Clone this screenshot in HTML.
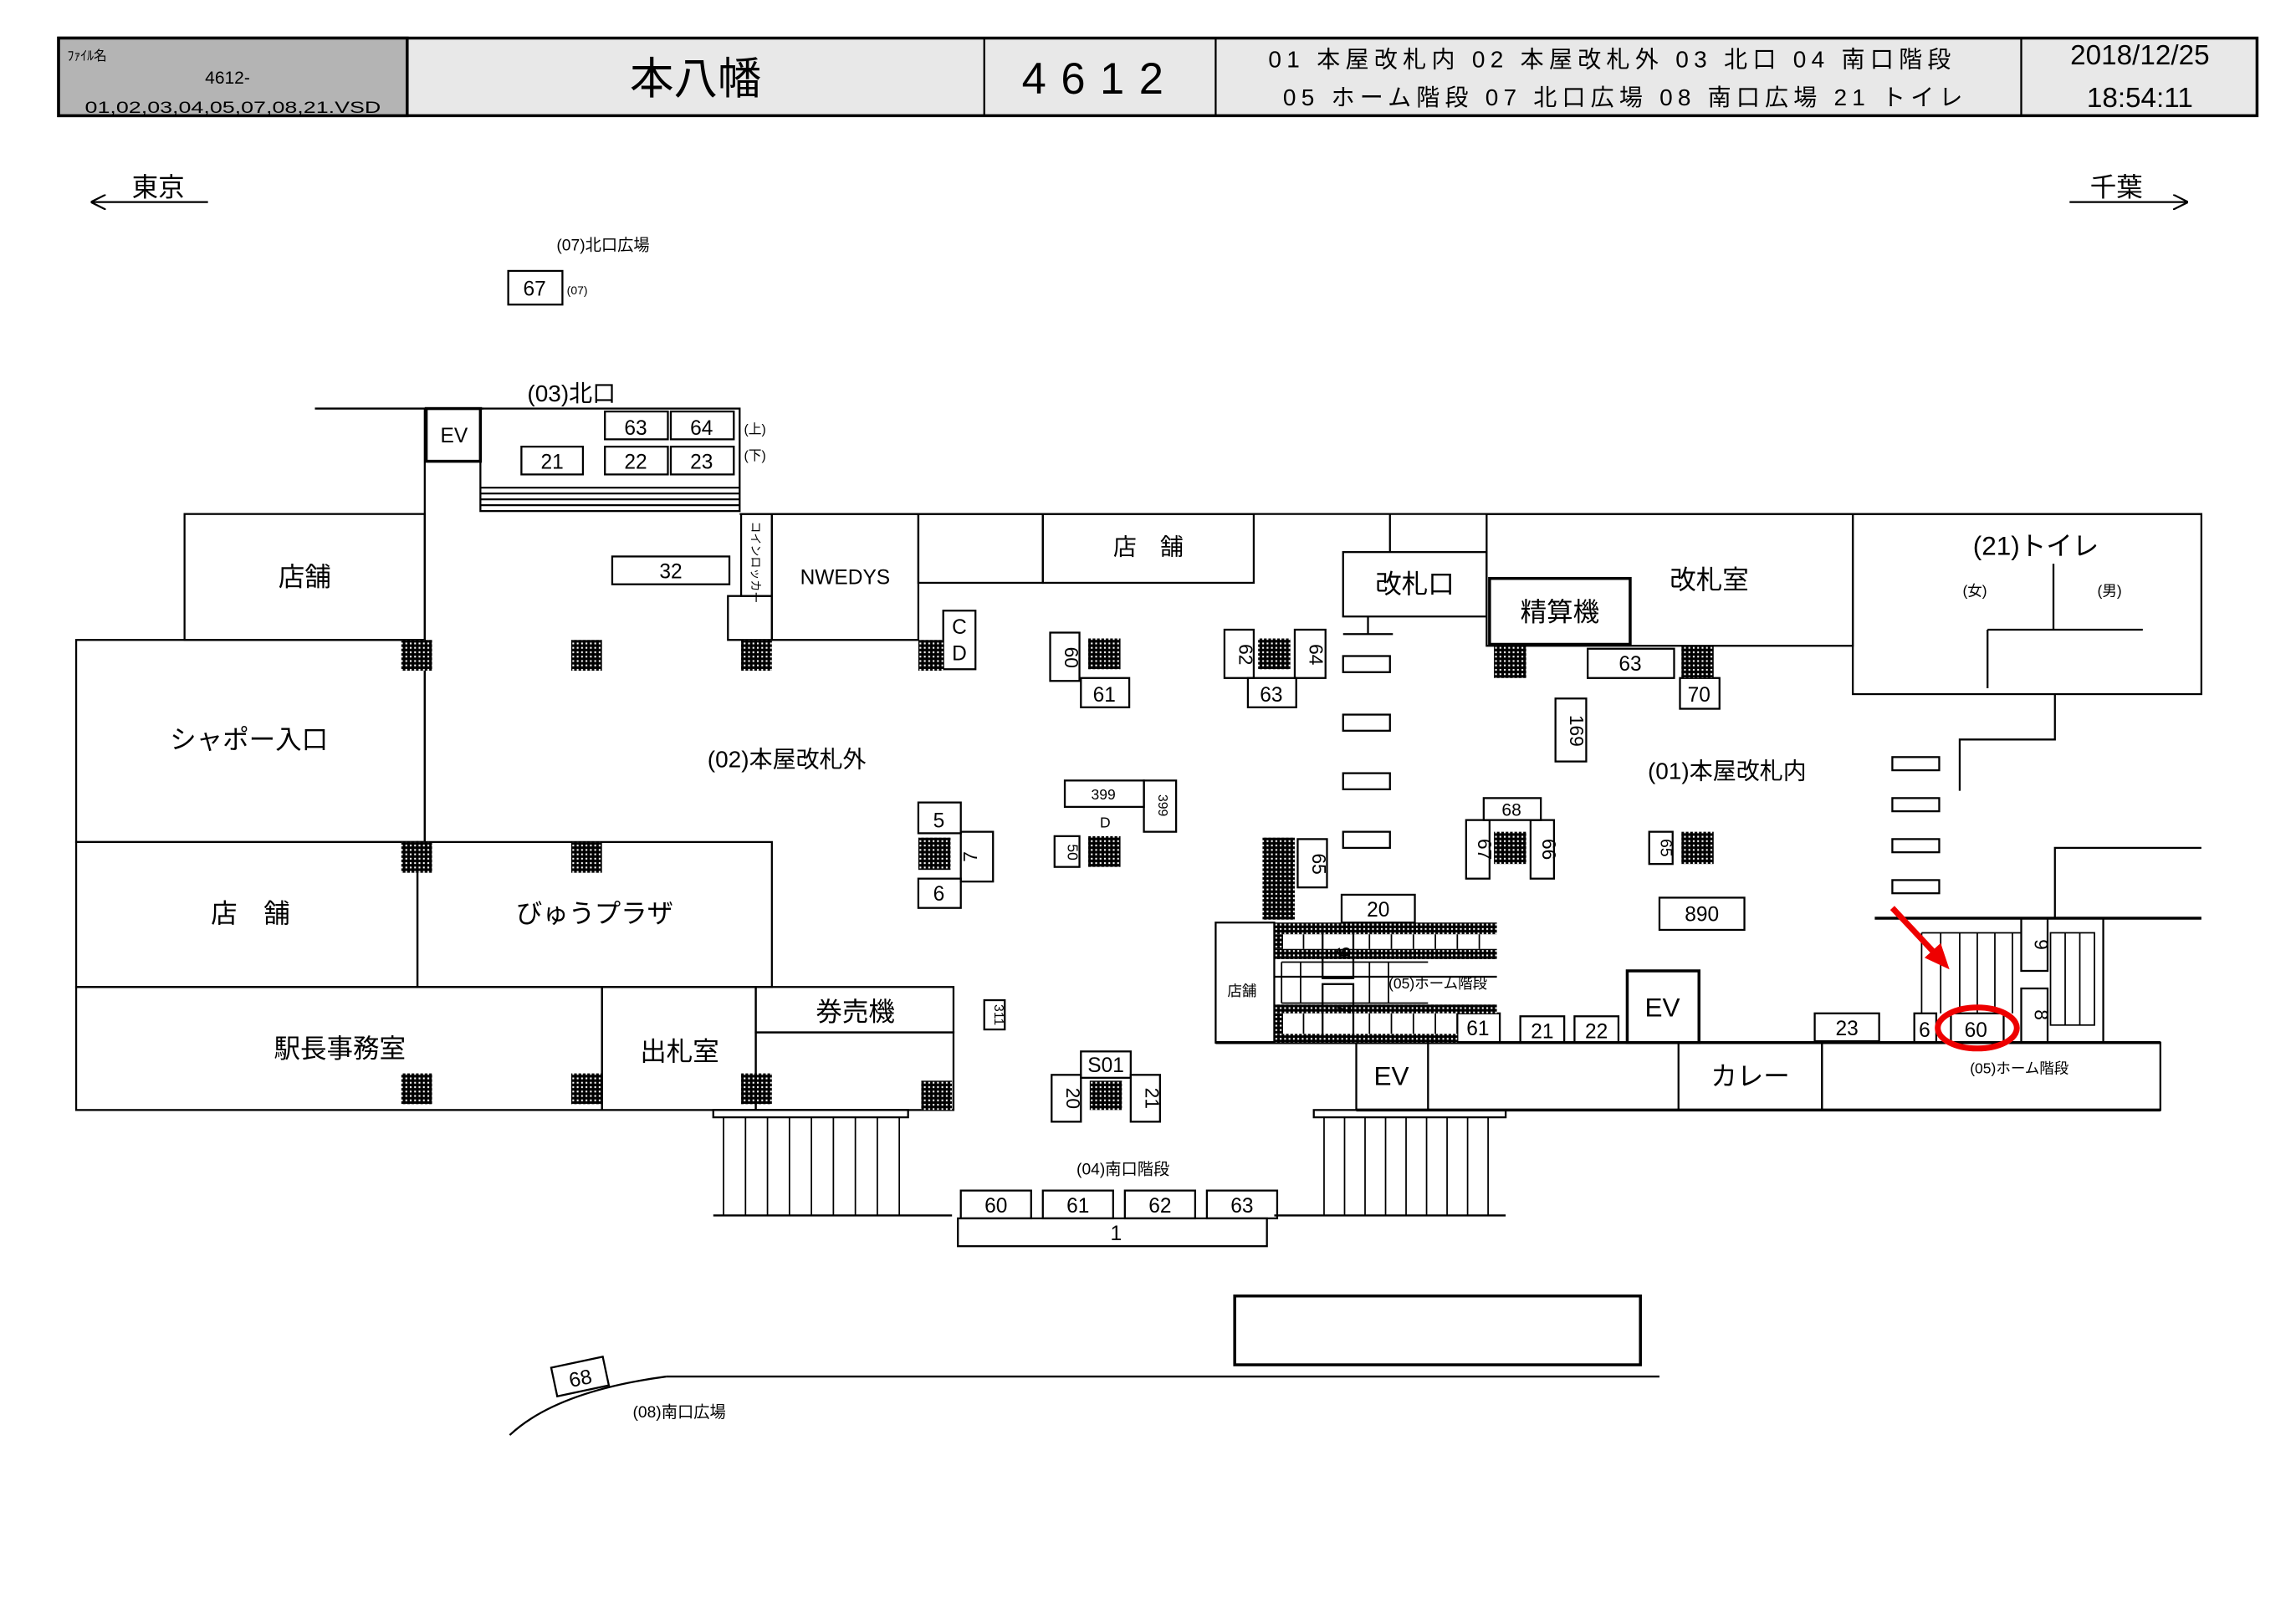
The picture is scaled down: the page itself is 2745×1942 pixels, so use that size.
<!DOCTYPE html>
<html><head><meta charset="utf-8"><style>
html,body{margin:0;padding:0;background:#fff}
svg{display:block}
text{font-family:"Liberation Sans","Noto Sans CJK JP",sans-serif;fill:#000}
</style></head><body>
<svg width="2745" height="1942" viewBox="0 0 1567.6 1109" preserveAspectRatio="none" xmlns="http://www.w3.org/2000/svg">
<defs>
<pattern id="h" width="3" height="3" patternUnits="userSpaceOnUse"><rect width="3" height="3" fill="#000"/><rect x="0.8" y="0.8" width="1.2" height="1.2" fill="#fff"/></pattern>
<marker id="ar" viewBox="0 0 10 10" refX="9" refY="5" markerWidth="8" markerHeight="8" orient="auto"><path d="M0,0 L10,5 L0,10" fill="none" stroke="#000" stroke-width="1.2"/></marker>
</defs>
<g stroke="#000" stroke-width="1.3" fill="none">
<rect x="40" y="26" width="1501" height="53" fill="#e8e8e8" stroke-width="2"/>
<rect x="40" y="26" width="238" height="53" fill="#b4b4b4" stroke-width="2"/>
<line x1="672" y1="26" x2="672" y2="79"/><line x1="830" y1="26" x2="830" y2="79"/><line x1="1380" y1="26" x2="1380" y2="79"/>
<line x1="142" y1="138" x2="63" y2="138" marker-end="url(#ar)"/>
<line x1="1413" y1="138" x2="1493" y2="138" marker-end="url(#ar)"/>
<rect x="347" y="185" width="37" height="23"/>
<line x1="215" y1="279" x2="330" y2="279"/>
<rect x="291" y="279" width="37" height="36" stroke-width="2"/>
<rect x="328" y="279" width="177" height="70"/>
<line x1="328" y1="333" x2="505" y2="333"/><line x1="328" y1="337" x2="505" y2="337"/><line x1="328" y1="341" x2="505" y2="341"/><line x1="328" y1="345" x2="505" y2="345"/>
<rect x="413" y="281" width="43" height="19"/><rect x="458" y="281" width="43" height="19"/>
<rect x="356" y="305" width="42" height="19"/><rect x="413" y="305" width="43" height="19"/><rect x="458" y="305" width="43" height="19"/>
<line x1="290" y1="279" x2="290" y2="575"/>
<rect x="126" y="351" width="164" height="86"/>
<rect x="52" y="437" width="238" height="138"/>
<rect x="52" y="575" width="233" height="99"/>
<rect x="285" y="575" width="242" height="99"/>
<rect x="52" y="674" width="359" height="84"/>
<rect x="411" y="674" width="105" height="84"/>
<rect x="516" y="674" width="135" height="31"/>
<rect x="516" y="705" width="135" height="53"/>
<line x1="505" y1="351" x2="1503" y2="351"/>
<rect x="527" y="351" width="100" height="86"/>
<rect x="506" y="351" width="21" height="56"/>
<rect x="497" y="407" width="30" height="30"/>
<rect x="627" y="351" width="85" height="47"/>
<rect x="712" y="351" width="144" height="47"/>
<line x1="949" y1="351" x2="949" y2="377"/>
<rect x="917" y="377" width="98" height="44"/>
<line x1="934" y1="421" x2="934" y2="433"/><line x1="917" y1="433" x2="951" y2="433"/>
<rect x="1015" y="351" width="250" height="90"/>
<rect x="1017" y="395" width="96" height="45" stroke-width="2"/>
<rect x="1265" y="351" width="238" height="123"/>
<line x1="1402" y1="385" x2="1402" y2="430"/><line x1="1357" y1="430" x2="1463" y2="430"/><line x1="1357" y1="430" x2="1357" y2="470"/>
<polyline points="1403,474 1403,505 1338,505 1338,540"/>
<rect x="917" y="448" width="32" height="11"/><rect x="917" y="488" width="32" height="11"/><rect x="917" y="528" width="32" height="11"/><rect x="917" y="568" width="32" height="11"/>
<rect x="1292" y="517" width="32" height="9"/><rect x="1292" y="545" width="32" height="9"/><rect x="1292" y="573" width="32" height="9"/><rect x="1292" y="601" width="32" height="9"/>
<rect x="418" y="380" width="80" height="19"/>
<rect x="644" y="417" width="22" height="40"/>
<rect x="717" y="432" width="20" height="33"/><rect x="738" y="463" width="33" height="20"/>
<rect x="836" y="430" width="20" height="33"/><rect x="884" y="430" width="21" height="33"/><rect x="852" y="463" width="33" height="20"/>
<rect x="1084" y="443" width="59" height="20"/><rect x="1147" y="463" width="27" height="21"/>
<rect x="1062" y="477" width="21" height="43"/>
<rect x="727" y="533" width="54" height="18"/><rect x="781" y="533" width="22" height="35"/>
<rect x="627" y="548" width="29" height="21"/><rect x="656" y="568" width="22" height="34"/><rect x="627" y="600" width="29" height="20"/>
<rect x="720" y="571" width="17" height="21"/>
<rect x="886" y="573" width="20" height="33"/>
<rect x="1013" y="545" width="39" height="15"/><rect x="1001" y="560" width="16" height="40"/><rect x="1045" y="560" width="16" height="40"/>
<rect x="1126" y="568" width="16" height="22"/>
<rect x="1133" y="613" width="58" height="22"/>
<rect x="916" y="611" width="50" height="19"/>
<rect x="672" y="683" width="14" height="20"/>
<rect x="738" y="718" width="34" height="18"/><rect x="718" y="734" width="20" height="32"/><rect x="772" y="734" width="20" height="32"/>
<rect x="830" y="630" width="40" height="82"/>
<line x1="870" y1="667" x2="1022" y2="667"/>
<g stroke-width="1">
<line x1="890" y1="638" x2="890" y2="648"/><line x1="935" y1="638" x2="935" y2="648"/><line x1="950" y1="638" x2="950" y2="648"/><line x1="965" y1="638" x2="965" y2="648"/><line x1="980" y1="638" x2="980" y2="648"/><line x1="995" y1="638" x2="995" y2="648"/><line x1="1010" y1="638" x2="1010" y2="648"/>
<line x1="875" y1="657" x2="975" y2="657"/><line x1="875" y1="685" x2="975" y2="685"/>
<line x1="875" y1="657" x2="875" y2="685"/><line x1="888" y1="657" x2="888" y2="685"/><line x1="935" y1="657" x2="935" y2="685"/><line x1="948" y1="657" x2="948" y2="685"/>
<line x1="890" y1="692" x2="890" y2="706"/><line x1="935" y1="692" x2="935" y2="706"/><line x1="950" y1="692" x2="950" y2="706"/><line x1="965" y1="692" x2="965" y2="706"/><line x1="980" y1="692" x2="980" y2="706"/>
</g>
<rect x="903" y="632" width="21" height="36"/><rect x="903" y="672" width="21" height="35"/>
<rect x="995" y="692" width="29" height="20"/>
<rect x="1038" y="694" width="30" height="18"/><rect x="1075" y="694" width="30" height="18"/>
<rect x="1111" y="663" width="49" height="49" stroke-width="2"/>
<line x1="830" y1="712" x2="1475" y2="712" stroke-width="2"/>
<rect x="926" y="712" width="49" height="46"/>
<rect x="1146" y="712" width="98" height="46"/>
<rect x="1244" y="712" width="231" height="46"/>
<line x1="926" y1="758" x2="1475" y2="758" stroke-width="2"/>
<polyline points="1503,579 1403,579 1403,627"/>
<line x1="1280" y1="627" x2="1503" y2="627" stroke-width="2"/>
<g stroke-width="1">
<line x1="1312" y1="637" x2="1380" y2="637"/>
<line x1="1312" y1="637" x2="1312" y2="692"/><line x1="1325" y1="637" x2="1325" y2="692"/><line x1="1338" y1="637" x2="1338" y2="692"/><line x1="1350" y1="637" x2="1350" y2="692"/><line x1="1362" y1="637" x2="1362" y2="692"/><line x1="1374" y1="637" x2="1374" y2="692"/>
<rect x="1400" y="637" width="30" height="63"/><line x1="1410" y1="637" x2="1410" y2="700"/><line x1="1420" y1="637" x2="1420" y2="700"/>
</g>
<line x1="1436" y1="627" x2="1436" y2="712"/>
<rect x="1380" y="627" width="18" height="36"/><rect x="1380" y="675" width="18" height="37"/>
<rect x="1239" y="692" width="44" height="19"/>
<rect x="1307" y="692" width="15" height="20"/><rect x="1332" y="692" width="36" height="20"/>
<rect x="487" y="758" width="133" height="5"/><line x1="487" y1="830" x2="650" y2="830"/>
<g stroke-width="1">
<line x1="494" y1="763" x2="494" y2="830"/><line x1="509" y1="763" x2="509" y2="830"/><line x1="524" y1="763" x2="524" y2="830"/><line x1="539" y1="763" x2="539" y2="830"/><line x1="554" y1="763" x2="554" y2="830"/><line x1="569" y1="763" x2="569" y2="830"/><line x1="584" y1="763" x2="584" y2="830"/><line x1="599" y1="763" x2="599" y2="830"/><line x1="614" y1="763" x2="614" y2="830"/>
<line x1="904" y1="763" x2="904" y2="830"/><line x1="918" y1="763" x2="918" y2="830"/><line x1="932" y1="763" x2="932" y2="830"/><line x1="946" y1="763" x2="946" y2="830"/><line x1="960" y1="763" x2="960" y2="830"/><line x1="974" y1="763" x2="974" y2="830"/><line x1="988" y1="763" x2="988" y2="830"/><line x1="1002" y1="763" x2="1002" y2="830"/><line x1="1016" y1="763" x2="1016" y2="830"/>
</g>
<rect x="897" y="758" width="131" height="5"/><line x1="870" y1="830" x2="1028" y2="830"/>
<rect x="656" y="813" width="48" height="19"/><rect x="712" y="813" width="48" height="19"/><rect x="768" y="813" width="48" height="19"/><rect x="824" y="813" width="48" height="19"/>
<rect x="654" y="832" width="211" height="19"/>
<rect x="843" y="885" width="277" height="47" stroke-width="2"/>
<line x1="455" y1="940" x2="1133" y2="940"/>
<path d="M455,940 Q380,950 348,980"/>
<rect x="378" y="930" width="36" height="20" transform="rotate(-12 396 940)"/>
</g>
<g fill="url(#h)">
<rect x="274" y="437" width="21" height="21"/><rect x="390" y="437" width="21" height="21"/><rect x="506" y="437" width="21" height="21"/><rect x="627" y="437" width="17" height="21"/>
<rect x="274" y="575" width="21" height="21"/><rect x="390" y="575" width="21" height="21"/>
<rect x="274" y="733" width="21" height="21"/><rect x="390" y="733" width="21" height="21"/><rect x="506" y="733" width="21" height="21"/><rect x="629" y="738" width="21" height="20"/>
<rect x="743" y="436" width="22" height="21"/><rect x="859" y="436" width="22" height="21"/>
<rect x="1020" y="441" width="22" height="22"/><rect x="1148" y="441" width="22" height="22"/>
<rect x="627" y="572" width="22" height="22"/><rect x="743" y="571" width="22" height="21"/>
<rect x="862" y="572" width="22" height="56"/>
<rect x="1020" y="568" width="22" height="22"/><rect x="1148" y="568" width="22" height="22"/>
<rect x="744" y="738" width="22" height="20"/>
<rect x="870" y="630" width="152" height="8"/><rect x="870" y="648" width="152" height="7"/>
<rect x="870" y="686" width="152" height="6"/><rect x="870" y="706" width="125" height="6"/>
<rect x="870" y="638" width="6" height="10"/><rect x="870" y="692" width="6" height="14"/>
</g>
<ellipse cx="1350" cy="702" rx="27" ry="14" fill="none" stroke="#e00" stroke-width="4"/>
<line x1="1292" y1="620" x2="1322" y2="652" stroke="#e00" stroke-width="4"/>
<polygon points="1331,662 1314,654 1325,644" fill="#e00"/>
<text x="46" y="41" font-size="9">ﾌｧｲﾙ名</text>
<text x="140" y="57" font-size="12">4612-</text>
<text x="58" y="77" font-size="11" textLength="202" lengthAdjust="spacingAndGlyphs">01,02,03,04,05,07,08,21.VSD</text>
<text x="475" y="64" font-size="30" text-anchor="middle">本八幡</text>
<text x="751" y="64" font-size="30" text-anchor="middle" letter-spacing="10">4612</text>
<text x="866" y="46" font-size="16" textLength="466" lengthAdjust="spacing">01 本屋改札内  02 本屋改札外  03 北口  04 南口階段</text>
<text x="876" y="72" font-size="16" textLength="464" lengthAdjust="spacing">05 ホーム階段  07 北口広場  08 南口広場  21 トイレ</text>
<text x="1461" y="44" font-size="19" text-anchor="middle">2018/12/25</text>
<text x="1461" y="73" font-size="19" text-anchor="middle">18:54:11</text>
<g font-size="18">
<text x="90" y="134">東京</text><text x="1427" y="134">千葉</text>
<text x="208" y="400" text-anchor="middle">店舗</text>
<text x="170" y="511" text-anchor="middle">シャポー入口</text>
<text x="171" y="630" text-anchor="middle">店　舗</text>
<text x="406" y="630" text-anchor="middle">びゅうプラザ</text>
<text x="232" y="722" text-anchor="middle">駅長事務室</text>
<text x="464" y="724" text-anchor="middle">出札室</text>
<text x="584" y="697" text-anchor="middle">券売機</text>
<text x="966" y="405" text-anchor="middle">改札口</text>
<text x="1167" y="402" text-anchor="middle">改札室</text>
<text x="1065" y="424" text-anchor="middle">精算機</text>
<text x="1390" y="379" text-anchor="middle">(21)トイレ</text>
<text x="1135" y="694" text-anchor="middle">EV</text>
<text x="950" y="741" text-anchor="middle">EV</text>
<text x="1195" y="741" text-anchor="middle">カレー</text>
</g>
<g font-size="16">
<text x="360" y="274">(03)北口</text>
<text x="483" y="524">(02)本屋改札外</text>
<text x="1125" y="532">(01)本屋改札内</text>
<text x="784" y="379" text-anchor="middle">店　舗</text>
</g>
<g font-size="14" text-anchor="middle">
<text x="310" y="302">EV</text>
<text x="365" y="202">67</text>
<text x="434" y="297">63</text><text x="479" y="297">64</text>
<text x="377" y="320">21</text><text x="434" y="320">22</text><text x="479" y="320">23</text>
<text x="458" y="395">32</text>
<text x="577" y="399">NWEDYS</text>
<text x="655" y="433">C</text><text x="655" y="451">D</text>
<text x="754" y="479">61</text><text x="868" y="479">63</text>
<text x="1113" y="458">63</text><text x="1160" y="479">70</text>
<text x="641" y="565">5</text><text x="641" y="615">6</text>
<text x="1032" y="557" font-size="12">68</text>
<text x="1162" y="629">890</text>
<text x="941" y="626">20</text>
<text x="1009" y="707">61</text><text x="1053" y="709">21</text><text x="1090" y="709">22</text>
<text x="1261" y="707">23</text><text x="1314" y="708">6</text><text x="1349" y="708">60</text>
<text x="755" y="732">S01</text>
<text x="680" y="828">60</text><text x="736" y="828">61</text><text x="792" y="828">62</text><text x="848" y="828">63</text>
<text x="762" y="847">1</text>
<text x="396" y="946" transform="rotate(-12 396 940)">68</text>
</g>
<g font-size="13" text-anchor="middle">
<text x="727" y="449" transform="rotate(90 727 449)">60</text>
<text x="846" y="447" transform="rotate(90 846 447)">62</text>
<text x="894" y="447" transform="rotate(90 894 447)">64</text>
<text x="1072" y="499" transform="rotate(90 1072 499)">169</text>
<text x="667" y="585" transform="rotate(-90 667 585)">7</text>
<text x="729" y="582" transform="rotate(90 729 582)" font-size="10">50</text>
<text x="896" y="590" transform="rotate(90 896 590)">65</text>
<text x="1009" y="580" transform="rotate(90 1009 580)">67</text>
<text x="1053" y="580" transform="rotate(90 1053 580)">66</text>
<text x="1134" y="579" transform="rotate(90 1134 579)" font-size="11">65</text>
<text x="913" y="650" transform="rotate(90 913 650)">9</text>
<text x="913" y="689" transform="rotate(90 913 689)">7</text>
<text x="1389" y="645" transform="rotate(90 1389 645)">9</text>
<text x="1389" y="693" transform="rotate(90 1389 693)">8</text>
<text x="728" y="750" transform="rotate(90 728 750)">20</text>
<text x="782" y="750" transform="rotate(90 782 750)">21</text>
<text x="679" y="693" transform="rotate(90 679 693)" font-size="9">311</text>
<text x="791" y="550" transform="rotate(90 791 550)" font-size="9">399</text>
</g>
<g font-size="11">
<text x="380" y="171">(07)北口広場</text>
<text x="387" y="201" font-size="8">(07)</text>
<text x="508" y="296" font-size="9">(上)</text><text x="508" y="314" font-size="9">(下)</text>
<text x="745" y="546" font-size="10">399</text><text x="751" y="565" font-size="10">D</text>
<text x="735" y="802">(04)南口階段</text>
<text x="432" y="968">(08)南口広場</text>
<text x="948" y="675" font-size="10">(05)ホーム階段</text>
<text x="1345" y="733" font-size="10">(05)ホーム階段</text>
<text x="838" y="680" font-size="10">店舗</text>
<text x="1340" y="407" font-size="10">(女)</text><text x="1432" y="407" font-size="10">(男)</text>
<text x="513" y="356" font-size="8" transform="rotate(90 513 356)">コインロッカー</text>
</g>
</svg>
</body></html>
